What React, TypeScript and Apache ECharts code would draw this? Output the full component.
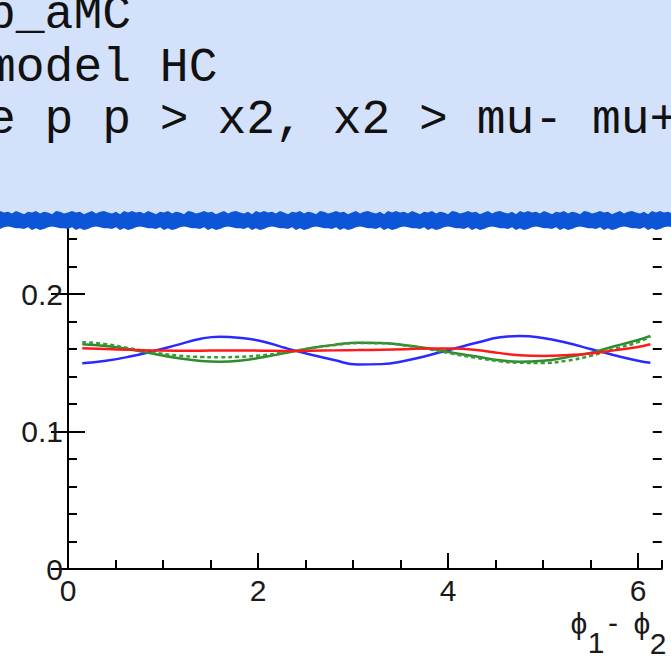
import React, { useEffect, useRef } from "react";
import * as echarts from "echarts";

// ---- data ----
const X_VALUES = [0.15, 0.4, 0.65, 0.9, 1.15, 1.4, 1.6, 1.8, 2.05, 2.3, 2.55, 2.8, 3.05, 3.3, 3.55, 3.8, 4.05, 4.3, 4.55, 4.75, 5.0, 5.25, 5.5, 5.75, 6.0, 6.13];
const BLUE = [0.1497, 0.1515, 0.1545, 0.1585, 0.163, 0.1675, 0.169, 0.1682, 0.1655, 0.1605, 0.156, 0.152, 0.1487, 0.149, 0.1515, 0.1555, 0.16, 0.1645, 0.1685, 0.1695, 0.168, 0.1645, 0.16, 0.1555, 0.1515, 0.15];
const GREEN = [0.1635, 0.1622, 0.1598, 0.1565, 0.1535, 0.1513, 0.1508, 0.1515, 0.154, 0.1572, 0.1605, 0.163, 0.1645, 0.1643, 0.1628, 0.1603, 0.1573, 0.1545, 0.1518, 0.1508, 0.1515, 0.154, 0.1572, 0.162, 0.1665, 0.1695];
const GREEN_DASHED = [0.165, 0.1635, 0.1605, 0.1575, 0.1553, 0.1542, 0.154, 0.1543, 0.1555, 0.1578, 0.1605, 0.1628, 0.1643, 0.1642, 0.1625, 0.1598, 0.1565, 0.1535, 0.151, 0.15, 0.1498, 0.1515, 0.155, 0.16, 0.165, 0.169];
const RED = [0.1605, 0.16, 0.1594, 0.159, 0.1588, 0.1588, 0.159, 0.159, 0.1588, 0.1586, 0.1587, 0.159, 0.1592, 0.1595, 0.1599, 0.1604, 0.1603, 0.1592, 0.157, 0.1555, 0.155, 0.1555, 0.1568, 0.159, 0.1615, 0.1635];

const X_MIN = 0;
const X_MAX = 6.25;
const X_MAJOR = 2;
const X_MINOR = 0.5;
const Y_MIN = 0;
const Y_MAX = 0.3;
const Y_MAJOR = 0.1;
const Y_MINOR = 0.02;

const HEADER_LINES = ["b_aMC", "model HC", "e p p > x2, x2 > mu- mu+"];
const JAG = [0, 2, 1, 3, 0, 2, 4, 1, 2, 0, 3, 1, 2, 4, 0, 1, 3, 2, 0, 2, 1, 4, 2, 0, 3, 1, 0, 2, 3, 1, 4, 0, 2];

const pairs = (ys: number[]) => X_VALUES.map((x, i) => [x, ys[i]]);

export default function App() {
  const ref = useRef<HTMLDivElement>(null);
  useEffect(() => {
    if (!ref.current) return;
    const chart = echarts.init(ref.current, null, { renderer: "svg" });
    const labelFont = { fontFamily: "Liberation Sans, Arial, sans-serif", fontSize: 30, color: "#1a1a1a" };
    const axisLine = { show: true, lineStyle: { color: "#000", width: 2 } };
    const tick = (length: number) => ({ show: true, inside: true, length, lineStyle: { color: "#000", width: 2 } });

    const topPts: number[][] = [];
    const botPts: number[][] = [];
    for (let i = 0; i <= 168; i++) {
      const x = i * 4;
      topPts.push([x, 211 + JAG[i % JAG.length] * 0.8]);
      botPts.push([x, 230 - JAG[(i * 3 + 7) % JAG.length] * 0.9]);
    }
    const bandPts = topPts.concat(botPts.reverse());

    const headerTexts = HEADER_LINES.map((t, i) => ({
      type: "text",
      z: 102,
      x: -13,
      y: 15 + i * 52.5,
      style: {
        text: t,
        fontFamily: "Courier New, Liberation Mono, monospace",
        fontSize: 48,
        fill: "#111",
        align: "left",
        verticalAlign: "middle",
      },
    }));

    const titleStyle = { fontFamily: "Liberation Sans, DejaVu Sans, sans-serif", fontSize: 30, fill: "#1a1a1a", align: "center", verticalAlign: "middle" };

    const yBase = { type: "value", min: Y_MIN, max: Y_MAX, splitLine: { show: false } };

    chart.setOption({
      animation: false,
      backgroundColor: "#fff",
      grid: { left: 68, right: 9.25, top: 156.5, bottom: 87, containLabel: false },
      xAxis: [
        {
          type: "value",
          position: "bottom",
          min: X_MIN,
          max: X_MAX,
          interval: X_MAJOR,
          axisLine,
          axisTick: tick(16),
          axisLabel: { ...labelFont, margin: 6, showMaxLabel: false, formatter: (v: number) => (v >= X_MAX - 0.01 ? "" : String(Math.round(v))) },
          splitLine: { show: false },
        },
        {
          type: "value",
          position: "bottom",
          offset: 0,
          min: X_MIN,
          max: X_MAX,
          interval: X_MINOR,
          axisLine: { show: false },
          axisTick: tick(9),
          axisLabel: { show: false },
          splitLine: { show: false },
        },
      ],
      yAxis: [
        {
          ...yBase,
          position: "left",
          interval: Y_MAJOR,
          axisLine,
          axisTick: tick(17),
          axisLabel: { ...labelFont, margin: 5, showMaxLabel: false, formatter: (v: number) => (v === 0 ? "0" : v >= 0.29 ? "" : v.toFixed(1)) },
        },
        {
          ...yBase,
          position: "right",
          interval: Y_MAJOR,
          axisLine,
          axisTick: tick(17),
          axisLabel: { show: false },
        },
        {
          ...yBase,
          position: "left",
          offset: 0,
          interval: Y_MINOR,
          axisLine: { show: false },
          axisTick: tick(9),
          axisLabel: { show: false },
        },
        {
          ...yBase,
          position: "right",
          offset: 0,
          interval: Y_MINOR,
          axisLine: { show: false },
          axisTick: tick(9),
          axisLabel: { show: false },
        },
      ],
      series: [
        { type: "line", data: pairs(BLUE), smooth: true, symbol: "none", lineStyle: { color: "#2a2aff", width: 2.5 }, z: 3 },
        { type: "line", data: pairs(GREEN), smooth: true, symbol: "none", lineStyle: { color: "#2e8b2e", width: 2.5 }, z: 3 },
        { type: "line", data: pairs(GREEN_DASHED), smooth: true, symbol: "none", lineStyle: { color: "#3a9a3a", width: 2.5, type: [4, 3] }, z: 3 },
        { type: "line", data: pairs(RED), smooth: true, symbol: "none", lineStyle: { color: "#ff1a1a", width: 2.5 }, z: 4 },
      ],
      graphic: [
        { type: "rect", z: 100, shape: { x: 0, y: 0, width: 671, height: 216 }, style: { fill: "#d3e1fa" } },
        { type: "polygon", z: 101, shape: { points: bandPts }, style: { fill: "#0b55d6" } },
        ...headerTexts,
        { type: "text", z: 102, x: 579, y: 623, style: { ...titleStyle, text: "ϕ" } },
        { type: "text", z: 102, x: 596, y: 642, style: { ...titleStyle, text: "1" } },
        { type: "text", z: 102, x: 613, y: 622, style: { ...titleStyle, text: "-" } },
        { type: "text", z: 102, x: 642, y: 623, style: { ...titleStyle, text: "ϕ" } },
        { type: "text", z: 102, x: 658, y: 643, style: { ...titleStyle, text: "2" } },
      ],
    });
    return () => chart.dispose();
  }, []);
  return <div ref={ref} style={{ position: "fixed", left: 0, top: 0, width: 671, height: 656 }} />;
}
